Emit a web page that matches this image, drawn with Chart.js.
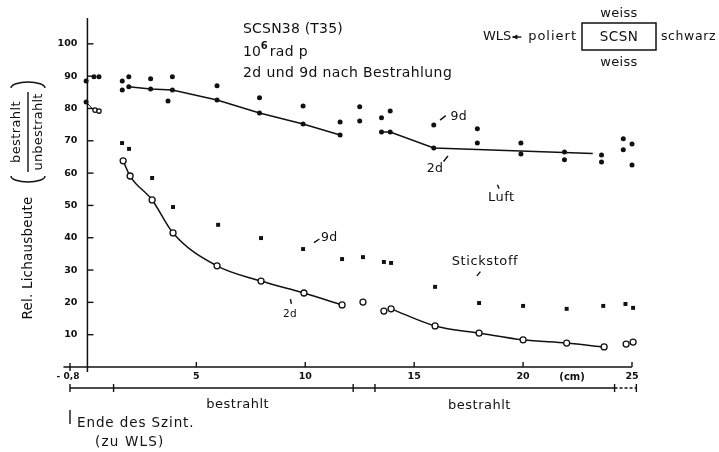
<!DOCTYPE html>
<html><head><meta charset="utf-8">
<script src="https://cdn.jsdelivr.net/npm/chart.js@4.4.1/dist/chart.umd.min.js"></script>
<style>html,body{margin:0;padding:0;background:#fff}canvas{display:block}</style>
</head><body>
<canvas id="c" width="719" height="452"></canvas>
<script>
// ---- data (x in cm, y = rel. light yield in %) ----
const yTicks = [10, 20, 30, 40, 50, 60, 70, 80, 90, 100];
const xTicks = [5, 10, 15, 20, 25];

// Luft (air), 2 d after irradiation
const luft2dX = [1.6, 1.9, 2.9, 3.9, 5.95, 7.9, 9.9, 11.6, 13.5, 13.9, 15.9, 17.9, 19.9, 21.9, 23.6, 24.6, 25.0];
const luft2dY = [85.7, 86.7, 86.0, 85.7, 82.6, 78.6, 75.2, 71.8, 72.7, 72.7, 67.8, 69.3, 65.9, 66.5, 65.6, 67.2, 62.5];
// Luft (air), 9 d after irradiation
const luft9dX = [1.6, 1.9, 2.9, 3.9, 3.7, 5.95, 7.9, 9.9, 11.6, 12.5, 12.5, 13.5, 13.9, 15.9, 17.9, 19.9, 21.9, 23.6, 24.6, 25.0];
const luft9dY = [88.5, 89.8, 89.2, 89.8, 82.3, 87.0, 83.3, 80.8, 75.8, 80.5, 76.1, 77.1, 79.2, 74.9, 73.7, 69.3, 64.1, 63.4, 70.6, 69.0];
// hand-drawn curves through the Luft 2d points
const luftCurveAX = [1.9, 2.9, 3.9, 5.95, 7.9, 9.9, 11.6];
const luftCurveAY = [86.7, 86.0, 85.7, 82.6, 78.6, 75.2, 71.8];
const luftCurveBX = [13.5, 13.9, 15.9, 23.2];
const luftCurveBY = [72.7, 72.7, 67.8, 66.1];

// Stickstoff (nitrogen), 2 d
const stick2dX = [1.64, 1.96, 2.97, 3.93, 5.95, 7.97, 9.94, 11.69, 12.65, 13.61, 13.94, 15.96, 17.98, 20.0, 22.0, 23.72, 24.73, 25.05];
const stick2dY = [63.8, 59.1, 51.7, 41.5, 31.3, 26.6, 22.9, 19.2, 20.1, 17.3, 18.0, 12.7, 10.5, 8.4, 7.4, 6.2, 7.1, 7.7];
// Stickstoff (nitrogen), 9 d
const stick9dX = [1.59, 1.91, 2.97, 3.93, 6.0, 7.97, 9.9, 11.69, 12.65, 13.61, 13.94, 15.96, 17.98, 20.0, 22.0, 23.68, 24.7, 25.05];
const stick9dY = [69.3, 67.5, 58.5, 49.5, 44.0, 39.9, 36.5, 33.4, 34.0, 32.5, 32.2, 24.8, 19.8, 18.9, 18.0, 18.9, 19.5, 18.3];
const stickCurveAX = [1.64, 1.96, 2.97, 3.93, 5.95, 7.97, 9.94, 11.69];
const stickCurveAY = [63.8, 59.1, 51.7, 41.5, 31.3, 26.6, 22.9, 19.2];
const stickCurveBX = [13.94, 15.96, 17.98, 20.0, 22.0, 23.72];
const stickCurveBY = [18.0, 12.7, 10.5, 8.4, 7.4, 6.2];

// values at the scintillator end
const endDotsX = [-0.06, -0.06, 0.3, 0.53];
const endDotsY = [88.5, 82.0, 89.8, 89.8];
const endRingsX = [0.35, 0.53];
const endRingsY = [79.5, 79.2];

// irradiated zones along the strip (boundaries, cm)
const zoneBounds = [-0.8, 1.2, 12.2, 13.2, 24.2, 25.2];

const pts = (xs, ys) => xs.map((v, i) => ({x: v, y: ys[i]}));
const INK = '#111';
const FONT = '"DejaVu Sans", sans-serif';

function dotSet(xs, ys) {
  return {type: 'scatter', data: pts(xs, ys), pointStyle: 'circle', pointRadius: 2.5,
    backgroundColor: INK, borderColor: INK, borderWidth: 0, clip: false, order: 1};
}
function ringSet(xs, ys, r) {
  return {type: 'scatter', data: pts(xs, ys), pointStyle: 'circle', pointRadius: r,
    backgroundColor: '#fff', borderColor: INK, borderWidth: 1.3, clip: false, order: 0};
}
function squareSet(xs, ys) {
  return {type: 'scatter', data: pts(xs, ys), pointStyle: 'rect', pointRadius: 2.8,
    backgroundColor: INK, borderColor: INK, borderWidth: 0, clip: false, order: 1};
}
function curveSet(xs, ys, smooth) {
  return {type: 'line', data: pts(xs, ys), showLine: true, pointRadius: 0, borderColor: INK,
    borderWidth: 1.5, tension: 0, cubicInterpolationMode: smooth ? 'monotone' : 'default',
    fill: false, clip: false, order: 2};
}

const deco = {
  id: 'deco',
  afterDraw(chart) {
    const {ctx, scales: {x, y}} = chart;
    const X = v => x.getPixelForValue(v), Y = v => y.getPixelForValue(v);
    const line = (a, b, c, d, w) => { ctx.lineWidth = w || 1.4; ctx.beginPath(); ctx.moveTo(a, b); ctx.lineTo(c, d); ctx.stroke(); };
    const text = (s, px, py, size, align, weight, spacing) => {
      ctx.font = (weight || '') + ' ' + size + 'px ' + FONT;
      ctx.letterSpacing = (spacing || 0) + 'px';
      ctx.textAlign = align || 'center'; ctx.textBaseline = 'middle'; ctx.fillText(s, px, py);
      ctx.letterSpacing = '0px';
    };
    ctx.save();
    ctx.strokeStyle = INK; ctx.fillStyle = INK;
    const x0 = X(0), y0 = Y(0);
    // y axis
    line(x0, Y(108), x0, y0 + 5, 1.5);
    yTicks.forEach(v => { line(x0, Y(v), x0 + 6, Y(v)); text(String(v), x0 - 10, Y(v), 9.5, 'right', 'bold'); });
    // x axis
    line(X(-1.1), y0, X(25), y0, 1.5);
    xTicks.forEach(v => { line(X(v), y0, X(v), y0 - 5); text(String(v), X(v), y0 + 10, 9.5, 'center', 'bold'); });
    line(X(-0.8), y0 - 4, X(-0.8), y0 + 4);
    text('- 0,8', X(-0.8) - 2, y0 + 10, 9, 'center', 'bold');
    text('(cm)', X(22.25), y0 + 10, 10, 'center', 'bold');
    // irradiated zones bar
    const yb = y0 + 21;
    line(X(zoneBounds[0]), yb, X(zoneBounds[4]), yb, 1.6);
    ctx.setLineDash([3, 2]); line(X(zoneBounds[4]), yb, X(zoneBounds[5]), yb, 1.3); ctx.setLineDash([]);
    zoneBounds.forEach(v => line(X(v), yb - 4, X(v), yb + 4, 1.4));
    text('bestrahlt', X(6.9), yb + 17, 13, 'center', '', 0.5);
    text('bestrahlt', X(18.0), yb + 18, 13, 'center', '', 0.5);
    line(X(-0.8), yb + 22, X(-0.8), yb + 36, 1.4);
    text('Ende des Szint.', X(-0.8) + 7, yb + 35, 13.5, 'left', '', 0.9);
    text('(zu WLS)', X(-0.8) + 25, yb + 54, 13.5, 'left', '', 1.2);
    // y axis title
    ctx.save();
    ctx.translate(28, 258); ctx.rotate(-Math.PI / 2);
    text('Rel. Lichausbeute', 0, 0, 13.5, 'center', '', 0.2);
    ctx.restore();
    ctx.save();
    ctx.translate(28, 132); ctx.rotate(-Math.PI / 2);
    text('bestrahlt', 0, -11, 13, 'center', '', 0.4);
    text('unbestrahlt', 0, 11, 13, 'center', '', 0.2);
    line(-40, 0, 40, 0, 1.4);
    ctx.lineWidth = 1.4;
    ctx.beginPath(); ctx.ellipse(-44, 0, 6, 17, 0, Math.PI * 0.5, Math.PI * 1.5); ctx.stroke();
    ctx.beginPath(); ctx.ellipse(44, 0, 6, 17, 0, -Math.PI * 0.5, Math.PI * 0.5); ctx.stroke();
    ctx.restore();
    // title block
    text('SCSN38 (T35)', 243, 29, 14, 'left', '', 0.2);
    text('10', 243, 52, 14, 'left');
    ctx.font = '14px ' + FONT; const w10 = ctx.measureText('10').width;
    text('6', 243 + w10, 46, 10, 'left', 'bold');
    text('rad p', 243 + w10 + 9, 52, 14, 'left', '', 0.3);
    text('2d und 9d nach Bestrahlung', 243, 73, 14, 'left', '', 0.4);
    // strip sketch top right
    ctx.lineWidth = 1.5; ctx.strokeRect(582, 23, 74, 27);
    text('SCSN', 619, 37, 13.5, 'center', '', 0.5);
    text('weiss', 619, 14, 13, 'center', '', 0.3);
    text('weiss', 619, 63, 13, 'center', '', 0.3);
    text('schwarz', 661, 37, 12.5, 'left', '', 0.6);
    text('poliert', 577, 37, 13, 'right', '', 1.0);
    text('WLS', 483, 37, 13, 'left');
    ctx.font = '13px ' + FONT; const wW = ctx.measureText('WLS').width;
    line(483 + wW + 1, 37, 483 + wW + 10, 37, 1.4);
    ctx.beginPath(); ctx.moveTo(483 + wW + 1, 37); ctx.lineTo(483 + wW + 6, 34.5); ctx.lineTo(483 + wW + 6, 39.5); ctx.closePath(); ctx.fill();
    // curve annotations
    text('9d', X(17.05), Y(77.4), 12.5, 'center', '', 0.3);
    line(X(16.19), Y(76.4), X(16.45), Y(77.8), 1.4);
    text('2d', X(15.96), Y(61.4), 12.5, 'center', '', 0.3);
    line(X(16.35), Y(63.6), X(16.55), Y(65.3), 1.4);
    text('Luft', X(19.0), Y(52.4), 13, 'center', '', 0.5);
    line(X(18.82), Y(56.4), X(18.9), Y(55.2), 1.4);
    text('9d', X(11.1), Y(39.9), 12.5, 'center', '', 0.3);
    line(X(10.4), Y(38.5), X(10.65), Y(39.6), 1.4);
    text('2d', X(9.3), Y(16.2), 10.5, 'center', '', 0.3);
    line(X(9.32), Y(21.0), X(9.36), Y(19.5), 1.4);
    text('Stickstoff', X(18.25), Y(32.5), 13, 'center', '', 0.6);
    line(X(17.88), Y(28.2), X(18.04), Y(29.5), 1.4);
    // small arrow at the scintillator end
    line(X(-0.06), Y(82.0), X(0.22), Y(80.0), 1);
    ctx.restore();
  }
};

new Chart(document.getElementById('c'), {
  type: 'scatter',
  data: {datasets: [
    curveSet(luftCurveAX, luftCurveAY, false), curveSet(luftCurveBX, luftCurveBY, false),
    curveSet(stickCurveAX, stickCurveAY, true), curveSet(stickCurveBX, stickCurveBY, true),
    dotSet(luft2dX, luft2dY), dotSet(luft9dX, luft9dY),
    squareSet(stick9dX, stick9dY), ringSet(stick2dX, stick2dY, 3),
    dotSet(endDotsX, endDotsY), ringSet(endRingsX, endRingsY, 2.2)
  ]},
  options: {
    responsive: false, animation: false, devicePixelRatio: 1,
    layout: {padding: {left: 70, right: 87, top: 18, bottom: 85}},
    scales: {
      x: {type: 'linear', min: -0.8, max: 25, display: false},
      y: {type: 'linear', min: 0, max: 108, display: false}
    },
    plugins: {legend: {display: false}, tooltip: {enabled: false}}
  },
  plugins: [deco]
});
</script>
</body></html>
